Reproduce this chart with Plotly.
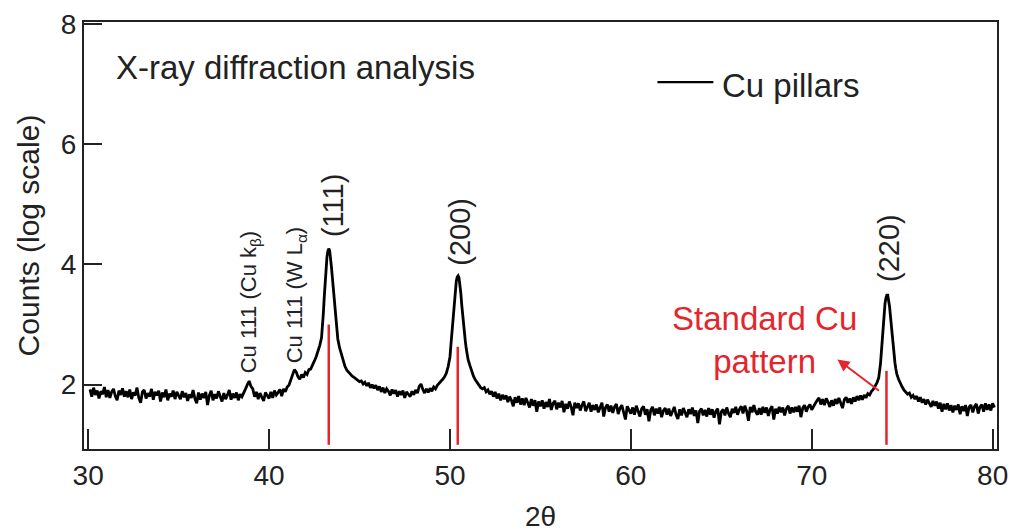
import plotly.graph_objects as go

# ---------------- data ----------------
# measured pattern, log10(counts); each segment: start angle, step, values
segA_start, segA_step = 30.1, 0.1
segA = [1.92, 1.80, 1.95, 1.83, 1.90, 1.77, 1.89, 1.84, 1.96, 1.79,
        1.91, 1.78, 1.88, 1.93, 1.81, 1.74, 1.90, 1.83, 1.94, 1.80,
        1.89, 1.79, 1.92, 1.76, 1.87, 1.82, 1.95, 1.78, 1.70, 1.88,
        1.91, 1.77, 1.86, 1.80, 1.93, 1.75, 1.88, 1.82, 1.90, 1.72,
        1.87, 1.79, 1.92, 1.74, 1.85, 1.80, 1.90, 1.76, 1.88, 1.81,
        1.76, 1.89, 1.79, 1.86, 1.73, 1.84, 1.78, 1.91, 1.77, 1.69,
        1.87, 1.75, 1.85, 1.78, 1.88, 1.66, 1.82, 1.90, 1.74, 1.84,
        1.77, 1.89, 1.79, 1.72, 1.86, 1.76, 1.83, 1.91, 1.75, 1.85,
        1.78, 1.87, 1.74, 1.84, 1.80, 1.88, 1.93, 2.00, 2.06, 1.97,
        1.93, 1.80, 1.88, 1.76, 1.86, 1.79, 1.73, 1.87, 1.82, 1.77,
        1.88, 1.78, 1.90, 1.83, 1.87, 1.92, 1.81, 1.93, 1.88, 1.96,
        1.99, 2.08, 2.17, 2.25, 2.21, 2.13, 2.09, 2.17, 2.12, 2.20,
        2.17, 2.25, 2.26, 2.34, 2.39, 2.46, 2.55, 2.65, 2.78]

segB_start, segB_step = 42.95, 0.05   # (111) peak
segB = [2.95, 3.18, 3.45, 3.72, 3.95, 4.12, 4.22, 4.26, 4.23, 4.12,
        3.95, 3.78, 3.62, 3.46, 3.28, 3.10, 2.92, 2.76]

segC_start, segC_step = 43.9, 0.1
segC = [2.61, 2.49, 2.38, 2.30, 2.24, 2.20, 2.17, 2.14, 2.12, 2.10,
        2.08, 2.05, 2.06, 2.01, 2.04, 1.98, 2.03, 1.95, 2.00, 1.94,
        1.99, 1.91, 1.97, 1.88, 1.95, 1.86, 1.93, 1.89, 1.82, 1.92,
        1.85, 1.91, 1.80, 1.89, 1.83, 1.90, 1.78, 1.88, 1.84, 1.80,
        1.89, 1.83, 1.91, 1.86, 1.97, 2.01, 1.92, 1.86, 1.93, 1.87,
        1.94, 1.89, 1.96, 1.93, 1.99, 2.02, 2.06, 2.09, 2.13, 2.19,
        2.30, 2.46]

segD_start, segD_step = 50.05, 0.05   # (200) peak
segD = [2.65, 2.85, 3.02, 3.22, 3.42, 3.60, 3.72, 3.79, 3.81, 3.78,
        3.68, 3.52, 3.33, 3.14, 2.98, 2.84, 2.72, 2.60, 2.50, 2.42]

segE_start, segE_step = 51.1, 0.1
segE = [2.32, 2.22, 2.14, 2.08, 2.03, 1.99, 1.95, 1.93, 1.95, 1.88,
        1.91, 1.84, 1.89, 1.80, 1.88, 1.77, 1.85, 1.74, 1.83, 1.76,
        1.82, 1.71, 1.80, 1.74, 1.64, 1.79, 1.70, 1.81, 1.67, 1.77,
        1.66, 1.78, 1.70, 1.62, 1.76, 1.65, 1.74, 1.55, 1.72, 1.64,
        1.74, 1.60, 1.71, 1.63, 1.76, 1.58, 1.69, 1.73, 1.59, 1.70,
        1.62, 1.73, 1.54, 1.68, 1.60, 1.72, 1.63, 1.49, 1.70, 1.61,
        1.69, 1.57, 1.66, 1.72, 1.56, 1.64, 1.70, 1.55, 1.66, 1.58,
        1.67, 1.54, 1.63, 1.70, 1.47, 1.62, 1.67, 1.55, 1.65, 1.53,
        1.63, 1.68, 1.51, 1.61, 1.66, 1.54, 1.42, 1.64, 1.57, 1.52,
        1.62, 1.50, 1.65, 1.54, 1.47, 1.60, 1.64, 1.50, 1.59, 1.39,
        1.58, 1.63, 1.49, 1.60, 1.52, 1.62, 1.46, 1.57, 1.61, 1.50,
        1.60, 1.48, 1.57, 1.63, 1.50, 1.43, 1.59, 1.49, 1.61, 1.52,
        1.46, 1.59, 1.51, 1.62, 1.48, 1.57, 1.36, 1.56, 1.60, 1.49,
        1.58, 1.47, 1.61, 1.50, 1.59, 1.45, 1.56, 1.60, 1.34, 1.55,
        1.59, 1.49, 1.62, 1.52, 1.46, 1.60, 1.53, 1.63, 1.50, 1.59,
        1.64, 1.52, 1.65, 1.56, 1.40, 1.63, 1.54, 1.66, 1.55, 1.50,
        1.61, 1.50, 1.63, 1.53, 1.62, 1.48, 1.59, 1.64, 1.42, 1.60,
        1.52, 1.63, 1.54, 1.62, 1.49, 1.60, 1.65, 1.52, 1.62, 1.54,
        1.63, 1.55, 1.65, 1.46, 1.61, 1.66, 1.55, 1.63, 1.67, 1.58,
        1.65, 1.69, 1.74, 1.78, 1.67, 1.76, 1.66, 1.77, 1.71, 1.63,
        1.74, 1.65, 1.76, 1.68, 1.78, 1.69, 1.61, 1.75, 1.79, 1.70,
        1.77, 1.68, 1.79, 1.72, 1.81, 1.74, 1.82, 1.75, 1.83, 1.78,
        1.85, 1.83, 1.89, 1.92, 1.97, 2.03, 2.11]

segF_start, segF_step = 73.75, 0.05   # (220) peak
segF = [2.20, 2.35, 2.55, 2.78, 3.00, 3.20, 3.35, 3.44, 3.49, 3.49,
        3.42, 3.30, 3.14, 2.96, 2.78, 2.62, 2.48, 2.36, 2.26, 2.18]

segG_start, segG_step = 74.8, 0.1
segG = [2.09, 2.01, 1.96, 1.91, 1.87, 1.84, 1.86, 1.79, 1.82, 1.76,
        1.81, 1.72, 1.79, 1.70, 1.76, 1.67, 1.75, 1.69, 1.63, 1.73,
        1.65, 1.72, 1.60, 1.70, 1.55, 1.68, 1.59, 1.69, 1.57, 1.66,
        1.54, 1.65, 1.58, 1.67, 1.51, 1.64, 1.56, 1.66, 1.48, 1.63,
        1.66, 1.54, 1.64, 1.68, 1.52, 1.63, 1.67, 1.55, 1.69, 1.58,
        1.67, 1.57, 1.69, 1.62]

# standard Cu reference pattern (2theta, line height)
std_pos = [43.30, 50.43, 74.13]
std_top = [3.00, 2.63, 2.23]
std_base = 1.0

x_ticks = [30, 40, 50, 60, 70, 80]
y_ticks = [2, 4, 6, 8]

# ---------------- build ----------------
segments = [(segA_start, segA_step, segA), (segB_start, segB_step, segB),
            (segC_start, segC_step, segC), (segD_start, segD_step, segD),
            (segE_start, segE_step, segE), (segF_start, segF_step, segF),
            (segG_start, segG_step, segG)]
two_theta, counts = [], []
for s0, st, vals in segments:
    for i, v in enumerate(vals):
        two_theta.append(round(s0 + st * i, 3))
        counts.append(v)

std_x, std_y = [], []
for p, t in zip(std_pos, std_top):
    std_x += [p, p, None]
    std_y += [std_base, t, None]

FONT = "Liberation Sans, Arial, Helvetica, sans-serif"
TXT = "#222222"
RED = "#e3262c"

fig = go.Figure()
fig.add_trace(go.Scatter(x=two_theta, y=counts, mode="lines", name="Cu pillars",
                         line=dict(color="black", width=2.8), showlegend=False))
fig.add_trace(go.Scatter(x=std_x, y=std_y, mode="lines", name="Standard Cu pattern",
                         line=dict(color=RED, width=2.5), showlegend=False))

ann = []
ann.append(dict(x=31.42, y=7.28, text="X-ray diffraction analysis", showarrow=False,
                xanchor="left", yanchor="middle", font=dict(size=33, color=TXT, family=FONT)))
ann.append(dict(x=64.95, y=6.98, text="Cu pillars", showarrow=False,
                xanchor="left", yanchor="middle", font=dict(size=33, color=TXT, family=FONT)))
peak_labels = [("(111)", 43.57, 4.98), ("(200)", 50.58, 4.55), ("(220)", 74.24, 4.28)]
for t, px, py in peak_labels:
    ann.append(dict(x=px, y=py, text=t, showarrow=False, textangle=-90,
                    font=dict(size=29, color=TXT, family=FONT)))
small_labels = [("Cu 111 (Cu k<sub>β</sub>)", 38.93, 3.38), ("Cu 111 (W L<sub>α</sub>)", 41.47, 3.48)]
for t, px, py in small_labels:
    ann.append(dict(x=px, y=py, text=t, showarrow=False, textangle=-90,
                    font=dict(size=22, color=TXT, family=FONT)))
ann.append(dict(x=67.40, y=2.75, text="Standard Cu<br>pattern", showarrow=False, align="center",
                font=dict(size=33, color=RED, family=FONT)))
ann.append(dict(x=71.42, y=2.42, ax=73.80, ay=1.88, axref="x", ayref="y", text="",
                showarrow=True, arrowhead=2, arrowsize=1.2, arrowwidth=2, arrowcolor=RED))

shapes = [dict(type="line", x0=61.47, x1=64.56, y0=7.03, y1=7.03, xref="x", yref="y",
               line=dict(color="black", width=2.2))]

fig.update_layout(
    width=1011, height=532,
    margin=dict(l=84, r=14, t=22, b=83),
    paper_bgcolor="white", plot_bgcolor="white",
    font=dict(family=FONT, color=TXT),
    annotations=ann, shapes=shapes,
)
fig.update_xaxes(range=[29.77, 80.24], tickvals=x_ticks, ticks="inside", ticklen=20, tickwidth=2,
                 tickcolor="#222", showline=True, linewidth=2, linecolor="#222", mirror=True,
                 showgrid=False, zeroline=False, automargin=False,
                 tickfont=dict(size=28, color=TXT, family=FONT),
                 title=dict(text="2θ", font=dict(size=28, color=TXT, family=FONT), standoff=30))
fig.update_yaxes(range=[0.93, 8.03], tickvals=y_ticks, ticks="inside", ticklen=18, tickwidth=2,
                 tickcolor="#222", showline=True, linewidth=2, linecolor="#222", mirror=True,
                 showgrid=False, zeroline=False, automargin=False,
                 tickfont=dict(size=28, color=TXT, family=FONT),
                 title=dict(text="Counts (log scale)", font=dict(size=30, color=TXT, family=FONT), standoff=12))

fig.write_html("out.html")
